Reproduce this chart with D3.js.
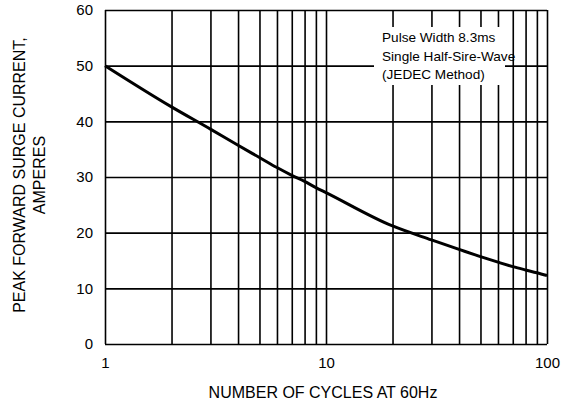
<!DOCTYPE html>
<html>
<head>
<meta charset="utf-8">
<script src="https://cdn.jsdelivr.net/npm/d3@7"></script>
<style>
  body { margin: 0; background: #fff; }
  text { font-family: "Liberation Sans", Arial, sans-serif; fill: #000; }
</style>
</head>
<body>
<script>
// cycles (x, log) and peak surge current (y)
const cycles = [1, 2, 3, 4, 5, 6, 7, 8, 9, 10, 20, 30, 40, 50, 60, 70, 80, 90, 100];
const amperes = [50, 42.6, 38.6, 35.7, 33.5, 31.7, 30.3, 29.2, 28.1, 27.2, 21.2, 18.7, 17.0, 15.7, 14.7, 13.9, 13.3, 12.8, 12.3];
const xGrid = [1, 2, 3, 4, 5, 6, 7, 8, 9, 10, 20, 30, 40, 50, 60, 70, 80, 90, 100];
const xLabels = [1, 10, 100];
const yTicks = [0, 10, 20, 30, 40, 50, 60];
const legendLines = ["Pulse Width 8.3ms", "Single Half-Sire-Wave", "(JEDEC Method)"];

const W = 571, H = 406;
const plotL = 105, plotR = 547, plotT = 10, plotB = 344;

const svg = d3.select("body").append("svg")
    .attr("width", W)
    .attr("height", H);

const x = d3.scaleLog().domain([1, 100]).range([plotL, plotR]);
const y = d3.scaleLinear().domain([0, 60]).range([plotB, plotT]);

// vertical grid + x labels
const xAxis = svg.append("g")
    .attr("transform", `translate(0,${plotB})`)
    .call(d3.axisBottom(x)
        .tickValues(xGrid)
        .tickSize(-(plotB - plotT))
        .tickPadding(13)
        .tickFormat(d => xLabels.includes(d) ? d : ""));
xAxis.select(".domain").remove();
xAxis.selectAll("line").attr("stroke", "#000").attr("stroke-width", 1.6);
xAxis.selectAll("text").attr("font-size", 15).style("font-family", "Liberation Sans, Arial, sans-serif");

// horizontal grid + y labels
const yAxis = svg.append("g")
    .attr("transform", `translate(${plotL},0)`)
    .call(d3.axisLeft(y)
        .tickValues(yTicks)
        .tickSize(-(plotR - plotL))
        .tickPadding(12));
yAxis.select(".domain").remove();
yAxis.selectAll("line").attr("stroke", "#000").attr("stroke-width", 1.6);
yAxis.selectAll("text").attr("font-size", 15).style("font-family", "Liberation Sans, Arial, sans-serif");

// legend box, white behind text
svg.append("rect")
    .attr("x", 374).attr("y", 27)
    .attr("width", 131).attr("height", 58)
    .attr("fill", "#fff");

svg.append("g").selectAll("text")
    .data(legendLines)
    .enter()
    .append("text")
    .attr("x", 382)
    .attr("y", (d, i) => 42.3 + i * 18.3)
    .attr("font-size", 13.6)
    .text(d => d);

// curve
const line = d3.line()
    .x((d, i) => x(cycles[i]))
    .y(d => y(d))
    .curve(d3.curveMonotoneX);

svg.append("path")
    .datum(amperes)
    .attr("d", line)
    .attr("fill", "none")
    .attr("stroke", "#000")
    .attr("stroke-width", 3);

// axis titles
svg.append("text")
    .attr("x", (plotL + plotR) / 2 - 3)
    .attr("y", 398)
    .attr("text-anchor", "middle")
    .attr("font-size", 16)
    .text("NUMBER OF CYCLES AT 60Hz");

const yTitle = svg.append("g")
    .attr("transform", "translate(0,175) rotate(-90)");
yTitle.append("text")
    .attr("x", 0).attr("y", 25)
    .attr("text-anchor", "middle")
    .attr("font-size", 16)
    .text("PEAK FORWARD SURGE CURRENT,");
yTitle.append("text")
    .attr("x", 0).attr("y", 45)
    .attr("text-anchor", "middle")
    .attr("font-size", 16)
    .text("AMPERES");
</script>
</body>
</html>
